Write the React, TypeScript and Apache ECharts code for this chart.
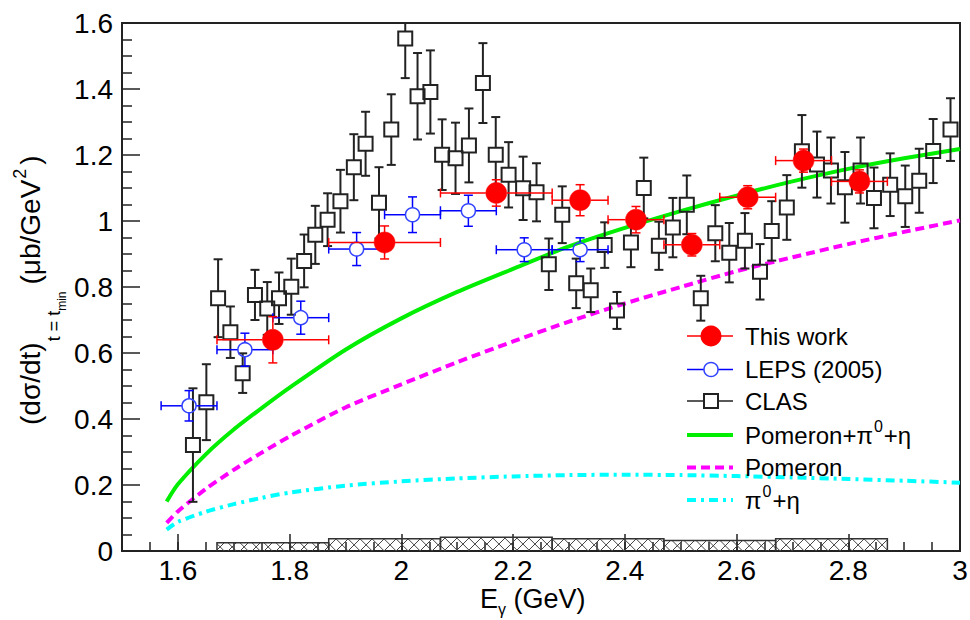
import React, { useEffect, useRef } from 'react';
import * as echarts from 'echarts';

// ---------------- data ----------------
// CLAS
const clasE = [1.627, 1.651, 1.672, 1.694, 1.716, 1.738, 1.760, 1.781, 1.803, 1.826, 1.846, 1.868, 1.891, 1.915, 1.936, 1.960, 1.982, 2.007, 2.029, 2.052, 2.073, 2.097, 2.121, 2.146, 2.169, 2.192, 2.218, 2.242, 2.264, 2.288, 2.313, 2.339, 2.364, 2.386, 2.411, 2.434, 2.461, 2.486, 2.511, 2.536, 2.562, 2.587, 2.615, 2.642, 2.663, 2.690, 2.717, 2.744, 2.769, 2.794, 2.822, 2.846, 2.875, 2.902, 2.927, 2.952, 2.983];
const clasXs = [0.321, 0.451, 0.766, 0.663, 0.539, 0.776, 0.735, 0.766, 0.801, 0.879, 0.958, 1.004, 1.060, 1.163, 1.234, 1.055, 1.277, 1.553, 1.378, 1.391, 1.201, 1.190, 1.229, 1.418, 1.201, 1.140, 1.099, 1.087, 0.869, 1.019, 0.811, 0.790, 0.927, 0.729, 0.935, 1.100, 0.925, 0.980, 1.049, 0.766, 0.963, 0.904, 0.940, 0.846, 0.970, 1.041, 1.211, 1.171, 1.153, 1.102, 1.153, 1.070, 1.110, 1.075, 1.122, 1.212, 1.277];
const clasErr = [0.172, 0.115, 0.118, 0.078, 0.06, 0.076, 0.08, 0.078, 0.085, 0.08, 0.088, 0.08, 0.095, 0.10, 0.097, 0.108, 0.107, 0.12, 0.131, 0.126, 0.107, 0.108, 0.112, 0.121, 0.114, 0.099, 0.096, 0.088, 0.078, 0.086, 0.075, 0.066, 0.069, 0.056, 0.075, 0.092, 0.073, 0.09, 0.089, 0.068, 0.085, 0.09, 0.084, 0.084, 0.09, 0.098, 0.11, 0.10, 0.10, 0.107, 0.10, 0.092, 0.095, 0.093, 0.097, 0.097, 0.095];

// LEPS (2005)
const lepsE = [1.62, 1.72, 1.82, 1.92, 2.02, 2.12, 2.22, 2.32];
const lepsXs = [0.44, 0.61, 0.707, 0.915, 1.019, 1.031, 0.913, 0.913];
const lepsEx = [0.05, 0.05, 0.05, 0.05, 0.05, 0.05, 0.05, 0.05];
const lepsErr = [0.046, 0.05, 0.05, 0.05, 0.054, 0.047, 0.036, 0.036];

// This work
const thisE = [1.77, 1.97, 2.17, 2.32, 2.42, 2.52, 2.62, 2.72, 2.82];
const thisXs = [0.64, 0.935, 1.085, 1.063, 1.004, 0.928, 1.072, 1.183, 1.12];
const thisEx = [0.1, 0.1, 0.1, 0.05, 0.05, 0.05, 0.05, 0.05, 0.05];
const thisErr = [0.07, 0.05, 0.04, 0.047, 0.04, 0.034, 0.035, 0.035, 0.035];

// model curves
const curveE = [1.58, 1.6, 1.65, 1.7, 1.75, 1.8, 1.9, 2.0, 2.1, 2.2, 2.3, 2.4, 2.5, 2.6, 2.7, 2.8, 2.9, 3.0];
const pomPiEta = [0.15, 0.202, 0.293, 0.368, 0.433, 0.495, 0.61, 0.705, 0.785, 0.855, 0.923, 0.979, 1.03, 1.077, 1.12, 1.158, 1.19, 1.218];
const pomeron = [0.085, 0.12, 0.188, 0.246, 0.298, 0.347, 0.435, 0.505, 0.572, 0.635, 0.695, 0.75, 0.80, 0.848, 0.89, 0.93, 0.967, 1.002];
const piEta = [0.065, 0.088, 0.119, 0.142, 0.161, 0.177, 0.198, 0.211, 0.22, 0.226, 0.23, 0.231, 0.23, 0.227, 0.223, 0.218, 0.213, 0.207];

// systematic-error band
const bandLo = [1.67, 1.87, 2.07, 2.27, 2.47, 2.67];
const bandHi = [1.87, 2.07, 2.27, 2.47, 2.67, 2.87];
const bandSys = [0.025, 0.037, 0.042, 0.037, 0.032, 0.037];

// axis ticks
const xTicks = [1.6, 1.8, 2.0, 2.2, 2.4, 2.6, 2.8, 3.0];

const FONT = '"Liberation Sans", Arial, Helvetica, sans-serif';

function errorRender(kind: string, r: number, color: string, lw: number, cap: number, markerColor: string, markerLw: number) {
  return (params: any, api: any) => {
    const x = api.value(0), y = api.value(1), ex = api.value(2), ey = api.value(3);
    const c = api.coord([x, y]);
    const cx = c[0], cy = c[1];
    const yt = api.coord([x, y + ey])[1];
    const yb = api.coord([x, y - ey])[1];
    const xl = api.coord([x - ex, y])[0];
    const xr = api.coord([x + ex, y])[0];
    const st = { stroke: color, lineWidth: lw };
    const ch: any[] = [];
    const L = (x1: number, y1: number, x2: number, y2: number) =>
      ch.push({ type: 'line', shape: { x1, y1, x2, y2 }, style: st });
    if (ey > 0) {
      if (cy - r > yt) L(cx, cy - r, cx, yt);
      if (cy + r < yb) L(cx, cy + r, cx, yb);
      L(cx - cap, yt, cx + cap, yt);
      L(cx - cap, yb, cx + cap, yb);
    }
    if (ex > 0) {
      if (cx - r > xl) L(xl, cy, cx - r, cy);
      if (cx + r < xr) L(cx + r, cy, xr, cy);
      L(xl, cy - cap, xl, cy + cap);
      L(xr, cy - cap, xr, cy + cap);
    }
    if (kind === 'square') {
      ch.push({ type: 'rect', shape: { x: cx - r, y: cy - r, width: 2 * r, height: 2 * r }, style: { fill: 'none', stroke: markerColor, lineWidth: markerLw } });
    } else if (kind === 'openCircle') {
      ch.push({ type: 'circle', shape: { cx, cy, r }, style: { fill: 'none', stroke: markerColor, lineWidth: markerLw } });
    } else {
      ch.push({ type: 'circle', shape: { cx, cy, r }, style: { fill: markerColor, stroke: markerColor, lineWidth: 0.5 } });
    }
    return { type: 'group', children: ch };
  };
}

function bandRender(params: any, api: any) {
  const lo = api.value(0), hi = api.value(1), h = api.value(2);
  const p0 = api.coord([lo, 0]);
  const p1 = api.coord([hi, h]);
  const x0 = p0[0], x1 = p1[0], yb = p0[1], yt = p1[1];
  const hg = yb - yt;
  const s = 12;
  const st = { stroke: '#444', lineWidth: 1 };
  const ch: any[] = [];
  const start = Math.floor((x0 - hg) / s) * s;
  for (let a = start; a <= x1; a += s) {
    const t0 = Math.max(0, x0 - a), t1 = Math.min(hg, x1 - a);
    if (t1 > t0) {
      ch.push({ type: 'line', shape: { x1: a + t0, y1: yb - t0, x2: a + t1, y2: yb - t1 }, style: st });
      ch.push({ type: 'line', shape: { x1: a + t0, y1: yt + t0, x2: a + t1, y2: yt + t1 }, style: st });
    }
  }
  ch.push({ type: 'polyline', shape: { points: [[x0, yb], [x0, yt], [x1, yt], [x1, yb]] }, style: { stroke: '#333', lineWidth: 1.5, fill: 'none' } });
  return { type: 'group', children: ch };
}

export default function App() {
  const ref = useRef<HTMLDivElement>(null);
  useEffect(() => {
    if (!ref.current) return;
    const chart = echarts.init(ref.current, null, { renderer: 'svg' });
    const canvas = document.createElement('canvas');
    const ctx = canvas.getContext('2d') as CanvasRenderingContext2D;
    const measure = (t: string, size: number) => {
      ctx.font = `${size}px ${FONT}`;
      return ctx.measureText(t).width;
    };
    type Piece = { t: string; size: number; dy: number; gap?: number };
    const row = (pieces: Piece[], x0: number, y0: number) => {
      let x = x0;
      const els: any[] = [];
      pieces.forEach((p) => {
        x += p.gap || 0;
        els.push({
          type: 'text', x, y: y0 + p.dy, z: 100,
          style: { text: p.t, fontSize: p.size, fontFamily: FONT, fill: '#000', align: 'left', verticalAlign: 'middle', textAlign: 'left', textVerticalAlign: 'middle' },
        });
        x += measure(p.t, p.size);
      });
      return els;
    };

    const lineSt = { color: '#222', width: 1.5 };

    // legend
    const lx1 = 687, lx2 = 733, lmx = 711, ltx = 745;
    const rows = [336, 369.5, 401, 435, 467.5, 500];
    const legend: any[] = [
      { type: 'line', shape: { x1: lx1, y1: rows[0], x2: lx2, y2: rows[0] }, style: { stroke: '#ff0000', lineWidth: 1.5 } },
      { type: 'circle', shape: { cx: lmx, cy: rows[0], r: 10.5 }, style: { fill: '#ff0000' } },
      { type: 'line', shape: { x1: lx1, y1: rows[1], x2: lx2, y2: rows[1] }, style: { stroke: '#0000ff', lineWidth: 1.5 } },
      { type: 'circle', shape: { cx: lmx, cy: rows[1], r: 7 }, style: { fill: '#fff', stroke: '#3344ff', lineWidth: 1.5 } },
      { type: 'line', shape: { x1: lx1, y1: rows[2], x2: lx2, y2: rows[2] }, style: { stroke: '#222', lineWidth: 1.5 } },
      { type: 'rect', shape: { x: lmx - 7, y: rows[2] - 7, width: 14, height: 14 }, style: { fill: '#fff', stroke: '#222', lineWidth: 2 } },
      { type: 'line', shape: { x1: lx1, y1: rows[3], x2: lx2, y2: rows[3] }, style: { stroke: '#00ee00', lineWidth: 4 } },
      { type: 'line', shape: { x1: lx1, y1: rows[4], x2: lx2, y2: rows[4] }, style: { stroke: '#ff00ff', lineWidth: 4, lineDash: [9, 5] } },
      { type: 'line', shape: { x1: lx1, y1: rows[5], x2: lx2, y2: rows[5] }, style: { stroke: '#00ffff', lineWidth: 4, lineDash: [9, 5, 3, 5] } },
      ...row([{ t: 'This work', size: 24, dy: 0 }], ltx, rows[0]),
      ...row([{ t: 'LEPS (2005)', size: 24, dy: 0 }], ltx, rows[1]),
      ...row([{ t: 'CLAS', size: 24, dy: 0 }], ltx, rows[2]),
      ...row([{ t: 'Pomeron+π', size: 24, dy: 0 }, { t: '0', size: 16, dy: -9, gap: 1 }, { t: '+η', size: 24, dy: 0, gap: 1 }], ltx, rows[3]),
      ...row([{ t: 'Pomeron', size: 24, dy: 0 }], ltx, rows[4]),
      ...row([{ t: 'π', size: 24, dy: 0 }, { t: '0', size: 16, dy: -9, gap: 1 }, { t: '+η', size: 24, dy: 0, gap: 1 }], ltx, rows[5]),
    ];

    const xTitle = row([
      { t: 'E', size: 27, dy: 0 },
      { t: 'γ', size: 16, dy: 10, gap: 0 },
      { t: ' (GeV)', size: 27, dy: 0, gap: 0 },
    ], 480, 599);

    const yTitleEls = row([
      { t: '(dσ/dt)', size: 28, dy: 0 },
      { t: 't = t', size: 18, dy: 24, gap: 1 },
      { t: 'min', size: 12, dy: 32, gap: 0 },
      { t: '(μb/GeV', size: 28, dy: 0, gap: 7 },
      { t: '2', size: 18, dy: -10, gap: 1 },
      { t: ')', size: 28, dy: 0, gap: 4 },
    ], 0, 0);

    const option: any = {
      animation: false,
      backgroundColor: '#fff',
      grid: { left: 122, right: 10, top: 23, bottom: 69, show: true, borderColor: '#222', borderWidth: 2, backgroundColor: 'transparent', containLabel: false, outerBoundsMode: 'none' },
      xAxis: [
        {
          type: 'value', min: 1.5, max: 3.0, interval: 0.05, position: 'bottom',
          axisLine: { show: false },
          axisTick: { show: true, inside: true, length: 9, lineStyle: lineSt },
          axisLabel: { show: false },
          splitLine: { show: false },
        },
        {
          type: 'value', min: 1.5, max: 3.0, position: 'bottom',
          axisLine: { show: false },
          axisTick: { show: true, inside: true, length: 17, customValues: xTicks, lineStyle: lineSt },
          axisLabel: {
            show: true, customValues: xTicks, fontSize: 28, fontFamily: FONT, color: '#000', margin: 5,
            formatter: (v: number) => String(Math.round(v * 10) / 10),
          },
          splitLine: { show: false },
        },
      ],
      yAxis: {
        type: 'value', min: 0, max: 1.6, interval: 0.2,
        axisLine: { show: false },
        axisTick: { show: true, inside: true, length: 18, lineStyle: lineSt },
        minorTick: { show: true, splitNumber: 4, length: 10, lineStyle: lineSt },
        axisLabel: { fontSize: 28, fontFamily: FONT, color: '#000', margin: 9 },
        splitLine: { show: false },
        minorSplitLine: { show: false },
      },
      series: [
        {
          type: 'custom', name: 'band', xAxisIndex: 0, clip: true, z: 1,
          renderItem: bandRender,
          encode: { x: [0, 1], y: 2 },
          data: bandLo.map((lo, i) => [lo, bandHi[i], bandSys[i]]),
        },
        {
          type: 'line', name: 'Pomeron+π0+η', xAxisIndex: 0, z: 2, showSymbol: false, smooth: 0.25,
          lineStyle: { color: '#00ee00', width: 4 },
          data: curveE.map((e, i) => [e, pomPiEta[i]]),
        },
        {
          type: 'line', name: 'Pomeron', xAxisIndex: 0, z: 2, showSymbol: false, smooth: 0.25,
          lineStyle: { color: '#ff00ff', width: 4, type: [9, 5] },
          data: curveE.map((e, i) => [e, pomeron[i]]),
        },
        {
          type: 'line', name: 'π0+η', xAxisIndex: 0, z: 2, showSymbol: false, smooth: 0.25,
          lineStyle: { color: '#00ffff', width: 4, type: [9, 5, 3, 5] },
          data: curveE.map((e, i) => [e, piEta[i]]),
        },
        {
          type: 'custom', name: 'CLAS', xAxisIndex: 0, clip: true, z: 3,
          renderItem: errorRender('square', 7, '#222', 2, 4.5, '#222', 2),
          encode: { x: 0, y: 1 },
          data: clasE.map((e, i) => [e, clasXs[i], 0, clasErr[i]]),
        },
        {
          type: 'custom', name: 'LEPS (2005)', xAxisIndex: 0, clip: true, z: 4,
          renderItem: errorRender('openCircle', 7, '#0000ff', 1.5, 4.5, '#3344ff', 1.5),
          encode: { x: 0, y: 1 },
          data: lepsE.map((e, i) => [e, lepsXs[i], lepsEx[i], lepsErr[i]]),
        },
        {
          type: 'custom', name: 'This work', xAxisIndex: 0, clip: true, z: 5,
          renderItem: errorRender('filledCircle', 10.5, '#ff0000', 1.5, 4.5, '#ff0000', 0),
          encode: { x: 0, y: 1 },
          data: thisE.map((e, i) => [e, thisXs[i], thisEx[i], thisErr[i]]),
        },
      ],
      graphic: [
        ...legend.map((g) => ({ ...g, z: 100 })),
        ...xTitle,
        { type: 'group', x: 30, y: 425, rotation: Math.PI / 2, z: 100, children: yTitleEls },
      ],
    };
    chart.setOption(option);
    return () => chart.dispose();
  }, []);
  return (
    <div
      ref={ref}
      style={{ position: 'fixed', left: 0, top: 0, width: 970, height: 620, background: '#fff' }}
    />
  );
}
